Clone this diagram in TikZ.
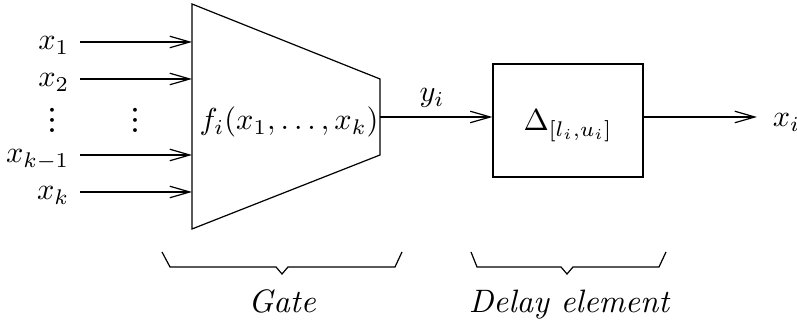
\documentclass[tikz,border=0pt]{standalone}
\usepackage{fontspec}
\newfontfamily\lmsym{Latin Modern Math}
\usetikzlibrary{arrows.meta}

\begin{document}
\begin{tikzpicture}
  [x=0.33pt,y=-0.33pt,>={Straight Barb[length=6.6pt,width=3.8pt]},
   dots/.style={inner sep=0pt,font=\lmsym\fontsize{12}{14}\selectfont},
   caption/.style={anchor=base,font=\fontsize{10.7}{13}\selectfont\itshape}]
  \useasboundingbox (0,0) rectangle (797,329);

  % the gate
  \draw (192,4) -- (380,79) -- (380,155) -- (192,229) -- cycle;
  \node[anchor=base] (f) at (289,130) {$f_i(x_1,\ldots,x_k)$};
  \coordinate (go) at (380,117);

  % its inputs
  \foreach \n/\txt/\y in {1/x_1/42,2/x_2/79,3/x_{k-1}/155,4/x_k/192} {
    \node[anchor=base east] (x\n) at (80,\y+8) {$\txt$};
    \coordinate (g\n) at (192,\y);
    \draw[->] (x\n.east |- g\n) -- (g\n);
  }
  \node[dots] (d1) at (52.5,120) {⋮};
  \node[dots] (d2) at (135,120) {⋮};

  % the delay element
  \node[draw,minimum width=49.5pt,minimum height=37.3pt] (delay) at (568,120.5) {};
  \node[anchor=base] (dl) at (568,131) {$\Delta_{[l_i,u_i]}$};
  \node[anchor=base] (yi) at (432,102) {$y_i$};
  \node[anchor=base west,inner xsep=5pt] (xi) at (757,127) {$x_i$};

  \draw[->] (go) -- (go -| delay.west);
  \draw[->] (go -| delay.east) -- (go -| xi.west);

  % braces and captions
  \draw (162,252) -- (170,267) -- (276,267) -- (282,274) -- (288,267)
    -- (395,267) -- (402,252);
  \draw (471,252) -- (477,267) -- (561,267) -- (567,274) -- (573,267)
    -- (659,267) -- (666,252);
  \node[caption] (gate) at (282,313) {Gate};
  \node[caption] (del) at (569,313) {Delay element};
\end{tikzpicture}
\end{document}
